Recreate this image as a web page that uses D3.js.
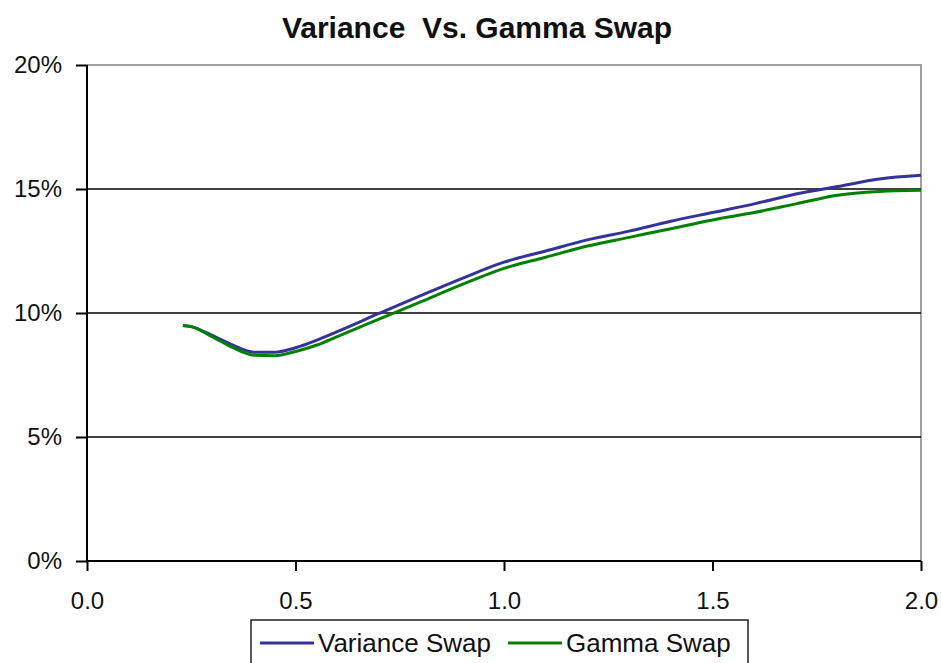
<!DOCTYPE html>
<html>
<head>
<meta charset="utf-8">
<script src="https://cdn.jsdelivr.net/npm/d3@7"></script>
<style>
  body { margin: 0; background: #fff; }
  svg { display: block; font-family: "Liberation Sans", Arial, sans-serif; }
</style>
</head>
<body>
<script>
// Maturités (axe des x)
const maturities = [0.23, 0.25, 0.3, 0.35, 0.4, 0.45, 0.5, 0.55, 0.6, 0.7, 0.8, 0.9,
    1.0, 1.1, 1.2, 1.3, 1.4, 1.5, 1.6, 1.7, 1.8, 1.9, 2.0];

// Niveaux de strike (en %)
const varianceSwap = [9.5, 9.45, 9.1, 8.7, 8.42, 8.42, 8.6, 8.9, 9.25, 9.98, 10.7, 11.4,
    12.05, 12.5, 12.95, 13.3, 13.7, 14.05, 14.4, 14.8, 15.1, 15.4, 15.55];
const gammaSwap = [9.5, 9.45, 9.05, 8.6, 8.3, 8.28, 8.45, 8.7, 9.05, 9.75, 10.45, 11.15,
    11.8, 12.25, 12.7, 13.05, 13.4, 13.75, 14.05, 14.4, 14.75, 14.9, 14.95];

const xTicks = [0, 0.5, 1.0, 1.5, 2.0];
const yTicks = [0, 5, 10, 15, 20];

const seriesNames = ["Variance Swap", "Gamma Swap"];
const seriesColors = ["#333399", "#008000"];

const width = 941;
const height = 663;
const margin = { top: 65, right: 20, bottom: 102, left: 87 };

const svg = d3.select("body").append("svg")
    .attr("width", width)
    .attr("height", height);

const x = d3.scaleLinear().domain([0, 2]).range([margin.left, width - margin.right]);
const y = d3.scaleLinear().domain([0, 20]).range([height - margin.bottom, margin.top]);

// Titre (double espace conservé)
svg.append("text")
    .attr("x", 477)
    .attr("y", 38)
    .attr("text-anchor", "middle")
    .style("white-space", "pre")
    .style("font-size", "30px")
    .style("font-weight", "bold")
    .style("fill", "#111")
    .text("Variance  Vs. Gamma Swap");

// Cadre gris (haut et droite)
svg.append("path")
    .attr("d", `M${x(0)},${y(20)}H${x(2)}V${y(0)}`)
    .style("fill", "none")
    .style("stroke", "#a0a0a0")
    .style("stroke-width", 2);

// Lignes de grille horizontales
svg.append("g")
    .selectAll("line")
    .data(yTicks.filter(d => d > 0 && d < 20))
    .enter()
    .append("line")
    .attr("x1", x(0))
    .attr("x2", x(2))
    .attr("y1", d => y(d))
    .attr("y2", d => y(d))
    .style("stroke", "#000")
    .style("stroke-width", 1.7);

// Axes
const yAxis = svg.append("g")
    .attr("transform", `translate(${x(0)},0)`)
    .call(d3.axisLeft(y).tickValues(yTicks).tickSize(11).tickPadding(14)
        .tickFormat(d => d + "%"));

const xAxis = svg.append("g")
    .attr("transform", `translate(0,${y(0)})`)
    .call(d3.axisBottom(x).tickValues(xTicks).tickSize(10).tickPadding(21)
        .tickFormat(d3.format(".1f")));

[yAxis, xAxis].forEach(ax => {
    ax.select(".domain").style("stroke", "#000").style("stroke-width", 2);
    ax.selectAll(".tick line").style("stroke", "#000").style("stroke-width", 2);
    ax.selectAll(".tick text")
        .style("font-size", "24px")
        .style("font-family", "'Liberation Sans', Arial, sans-serif")
        .style("fill", "#111");
});
yAxis.select(".domain").attr("d", `M0,${y(20)}V${y(0)}`);
xAxis.select(".domain").attr("d", `M${x(0)},0H${x(2)}`);

// Courbes
const line = d3.line()
    .x(d => x(d[0]))
    .y(d => y(d[1]))
    .curve(d3.curveMonotoneX);

[varianceSwap, gammaSwap].forEach((values, i) => {
    svg.append("path")
        .datum(maturities.map((m, j) => [m, values[j]]))
        .attr("d", line)
        .style("fill", "none")
        .style("stroke", seriesColors[i])
        .style("stroke-width", 3);
});

// Légende
const legend = svg.append("g");
legend.append("rect")
    .attr("x", 251)
    .attr("y", 620)
    .attr("width", 497)
    .attr("height", 60)
    .style("fill", "#fff")
    .style("stroke", "#222")
    .style("stroke-width", 1.5);

const legendX = [260, 508];
seriesNames.forEach((name, i) => {
    legend.append("line")
        .attr("x1", legendX[i])
        .attr("x2", legendX[i] + 54)
        .attr("y1", 643)
        .attr("y2", 643)
        .style("stroke", seriesColors[i])
        .style("stroke-width", 3);
    legend.append("text")
        .attr("x", legendX[i] + 58)
        .attr("y", 652)
        .style("font-size", "26px")
        .style("fill", "#111")
        .text(name);
});
</script>
</body>
</html>
